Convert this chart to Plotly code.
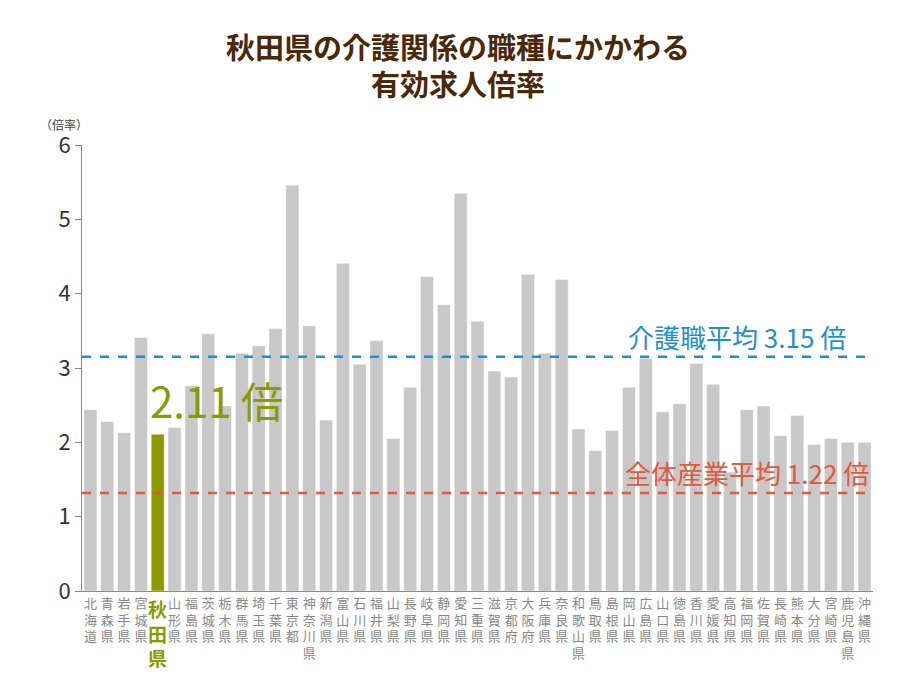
import plotly.graph_objects as go

prefs = ["北海道", "青森県", "岩手県", "宮城県", "秋田県", "山形県", "福島県", "茨城県", "栃木県", "群馬県",
         "埼玉県", "千葉県", "東京都", "神奈川県", "新潟県", "富山県", "石川県", "福井県", "山梨県", "長野県",
         "岐阜県", "静岡県", "愛知県", "三重県", "滋賀県", "京都府", "大阪府", "兵庫県", "奈良県", "和歌山県",
         "鳥取県", "島根県", "岡山県", "広島県", "山口県", "徳島県", "香川県", "愛媛県", "高知県", "福岡県",
         "佐賀県", "長崎県", "熊本県", "大分県", "宮崎県", "鹿児島県", "沖縄県"]
ratios = [2.44, 2.28, 2.13, 3.41, 2.11, 2.20, 2.76, 3.46, 2.49, 3.20,
          3.30, 3.53, 5.46, 3.57, 2.30, 4.41, 3.05, 3.37, 2.05, 2.74,
          4.23, 3.85, 5.35, 3.63, 2.96, 2.88, 4.26, 3.20, 4.19, 2.18,
          1.89, 2.16, 2.74, 3.13, 2.41, 2.52, 3.06, 2.78, 1.60, 2.44,
          2.49, 2.09, 2.36, 1.97, 2.05, 2.00, 2.00]
care_avg = 3.15
all_avg_line = 1.32  # position as drawn in the reference
highlight = "秋田県"

GRAY = "#c8c8c8"
GREEN = "#8a9a00"
BLUE = "#1e8fd5"
RED = "#e05a40"

colors = [GREEN if p == highlight else GRAY for p in prefs]
# highlighted label is drawn separately as a bigger annotation
ticktext = ["" if p == highlight else "<br>".join(p) for p in prefs]

fig = go.Figure(go.Bar(x=prefs, y=ratios, marker_color=colors, width=0.78))

fig.add_hline(y=care_avg, line=dict(color=BLUE, width=2.5, dash="dash"))
fig.add_hline(y=all_avg_line, line=dict(color=RED, width=2.5, dash="dash"))

fig.add_annotation(x=1.0, xref="paper", y=care_avg, yref="y", text="介護職平均 3.15 倍",
                   showarrow=False, xanchor="right", yanchor="bottom", xshift=-25, yshift=0,
                   font=dict(size=26, color=BLUE))
fig.add_annotation(x=1.0, xref="paper", y=all_avg_line, yref="y", text="全体産業平均 1.22 倍",
                   showarrow=False, xanchor="right", yanchor="bottom", xshift=-2, yshift=0,
                   font=dict(size=26, color=RED))
fig.add_annotation(x=highlight, y=2.11, text="2.11 倍", showarrow=False, xanchor="left",
                   yanchor="bottom", xshift=-10, yshift=2, font=dict(size=42, color=GREEN))
fig.add_annotation(x=highlight, y=0, yref="paper", text="<b>秋<br>田<br>県</b>", showarrow=False,
                   xanchor="center", yanchor="top", yshift=-2, font=dict(size=19, color=GREEN))
fig.add_annotation(x=0, xref="paper", y=1.0, yref="paper", text="（倍率）", showarrow=False,
                   xanchor="right", yanchor="bottom", xshift=8, yshift=10,
                   font=dict(size=12, color="#444"))

fig.update_layout(
    title=dict(text="<b>秋田県の介護関係の職種にかかわる<br>有効求人倍率</b>", x=0.5, y=0.925,
               yanchor="middle", font=dict(size=29, color="#4a2808")),
    font=dict(family="Noto Sans CJK JP, sans-serif", color="#555"),
    template="plotly_white",
    width=900, height=675,
    margin=dict(l=74, r=35, t=137, b=92),
    showlegend=False,
)
fig.update_xaxes(tickmode="array", tickvals=prefs, ticktext=ticktext, tickangle=0,
                 tickfont=dict(size=13, color="#888"), showline=True, linecolor="#888",
                 showgrid=False, ticks="")
fig.update_yaxes(range=[0, 6], dtick=1, tickfont=dict(size=22, color="#333"), showline=True,
                 linecolor="#888", showgrid=False, zeroline=False, ticks="outside",
                 ticklen=6, tickcolor="#888")

fig.write_html("out.html")
